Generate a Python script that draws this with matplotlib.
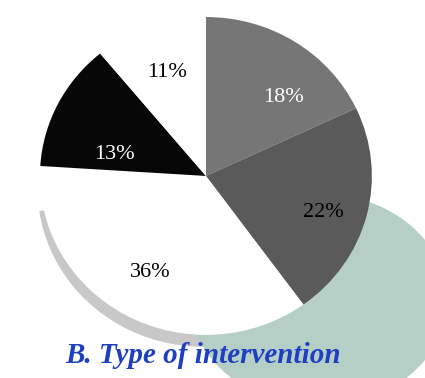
import matplotlib.pyplot as plt
from matplotlib.patches import Ellipse, Wedge

# data
shares = [18, 22, 36, 13, 11]
slice_colors = ["#767676", "#5a5a5a", "#ffffff", "#070707", "#ffffff"]
label_colors = ["white", "black", "black", "white", "black"]
title = "B. Type of intervention"

fig = plt.figure(figsize=(4.25, 3.78), dpi=100)
ax = fig.add_axes([0.094, 0.114, 0.781, 0.841])

wedges, texts, autotexts = ax.pie(
    shares, colors=slice_colors, startangle=90, counterclock=False,
    autopct="%d%%", pctdistance=0.69,
    wedgeprops=dict(linewidth=0, zorder=3),
    textprops=dict(family="Liberation Serif", fontsize=16),
)
for t, c in zip(autotexts, label_colors):
    t.set_color(c)
    t.set_zorder(5)

# small nudges so labels sit like in the scan
nudges = {0: (0.1, -0.09), 1: (0.04, -0.06), 3: (0.065, -0.18)}
for i, (dx, dy) in nudges.items():
    x, y = autotexts[i].get_position()
    autotexts[i].set_position((x + dx, y + dy))

ax.set_aspect("auto")
ax.set_xlim(-1, 1)
ax.set_ylim(-1, 1)

# grey shadow under the white slice (tapers off on the left)
w = wedges[2]
shadow = Wedge((-0.015, -0.075), 1.0, w.theta1 + 12, w.theta2, facecolor="#c8c8c8",
               linewidth=0, zorder=1, clip_on=False)
ax.add_patch(shadow)

# teal blob behind the pie, bottom right
blob = Ellipse((0.68, -0.78), 1.55, 1.34, facecolor="#b5cfc6", linewidth=0,
               zorder=2, clip_on=False)
ax.add_patch(blob)

fig.text(0.478, 0.06, title, ha="center", va="center", color="#1e3fc2",
         family="Liberation Serif", fontsize=21, fontweight="bold",
         style="italic", zorder=10)

fig.savefig("out.png", dpi=100)
